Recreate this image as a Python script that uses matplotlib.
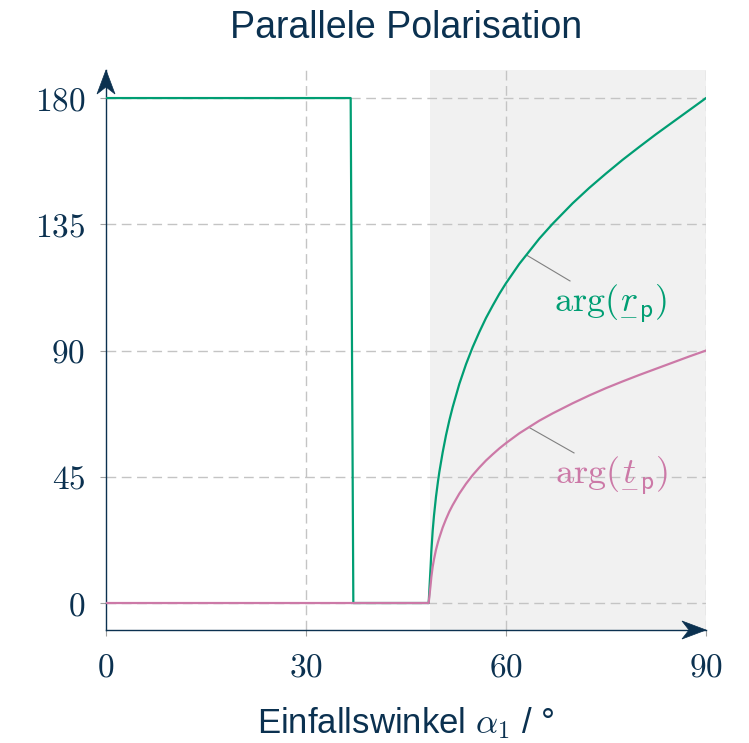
import numpy as np
import matplotlib
matplotlib.use("Agg")
import matplotlib.pyplot as plt
from matplotlib.patches import Polygon
from matplotlib.transforms import IdentityTransform

plt.rcParams['mathtext.fontset'] = 'cm'
plt.rcParams['font.family'] = ['Liberation Sans', 'DejaVu Sans']

# Phasen der Fresnel-Koeffizienten (parallel), in Grad
winkel = [0, 36.7, 37.1, 48.4, 48.7, 48.8, 49.0, 49.2, 49.5, 49.8, 50, 50.5,
          51, 51.5, 52, 53, 54, 55, 56, 57, 58, 59, 60, 62, 65, 67, 70, 72.5,
          75, 77.5, 80, 82.5, 85, 87.5, 90]
arg_rp = [180, 180, 0, 0, 13.4, 18.4, 25.7, 31.2, 37.9, 43.4, 46.7, 53.7,
          59.8, 65.1, 69.8, 78.1, 85.1, 91.2, 96.6, 101.6, 106.0, 110.2, 114.0,
          120.9, 129.9, 135.2, 142.5, 148.0, 153.1, 158.0, 162.6, 167.1, 171.4,
          175.7, 180]
arg_tp = [0, 0, 0, 0, 6.7, 9.2, 12.9, 15.6, 19.0, 21.7, 23.3, 26.9,
          29.9, 32.6, 34.9, 39.0, 42.5, 45.6, 48.3, 50.8, 53.0, 55.1, 57.0,
          60.5, 65.0, 67.6, 71.2, 74.0, 76.6, 79.0, 81.3, 83.5, 85.7,
          87.9, 90]

grenzwinkel = 48.6
x_ticks = [0, 30, 60, 90]
y_ticks = [0, 45, 90, 135, 180]

navy = '#0b3150'
gruen = '#009e73'
rosa = '#cc79a7'
grid_col = '#c4c4c4'

fig = plt.figure(figsize=(7.49, 7.43), dpi=100)
ax = fig.add_axes([106 / 749, 113 / 743, 600 / 749, 560 / 743])

ax.set_xlim(0, 90)
ax.set_ylim(-9.62, 190)

# Totalreflexionsbereich grau hinterlegt
ax.axvspan(grenzwinkel, 90, color='#f1f1f1', lw=0, zorder=0)

for xv in x_ticks[1:]:
    ax.axvline(xv, color=grid_col, lw=1.0, ls=(0, (7, 4)), zorder=1)
for yv in y_ticks:
    ax.axhline(yv, color=grid_col, lw=1.0, ls=(0, (7, 4)), zorder=1)

ax.plot(winkel, arg_rp, color=gruen, lw=1.6, zorder=3)
ax.plot(winkel, arg_tp, color=rosa, lw=1.6, zorder=3)

# Beschriftungen der Kurven mit Hinweislinien
ax.plot([63.1, 69.6], [124.0, 114.8], color='#808080', lw=0.8, zorder=2)
ax.plot([63.6, 70.2], [62.4, 53.5], color='#808080', lw=0.8, zorder=2)
ax.text(84.2, 106.9, r'$\arg(\underset{-}{r}_{\mathsf{p}})$', color=gruen,
        fontsize=26, ha='right', va='center', zorder=4)
ax.text(84.3, 45.6, r'$\arg(\underset{-}{t}_{\mathsf{p}})$', color=rosa,
        fontsize=26, ha='right', va='center', zorder=4)

for s in ['top', 'right']:
    ax.spines[s].set_visible(False)
for s in ['left', 'bottom']:
    ax.spines[s].set_color(navy)
    ax.spines[s].set_linewidth(1.0)

ax.set_xticks(x_ticks)
ax.set_xticklabels([f'${v}$' for v in x_ticks])
ax.set_yticks(y_ticks)
ax.set_yticklabels([f'${v}$' for v in y_ticks])
ax.tick_params(axis='both', colors='#a0a0a0', length=4, width=0.8,
               labelsize=24, labelcolor=navy)
ax.tick_params(axis='y', pad=11)
ax.tick_params(axis='x', pad=12)

ax.set_title('Parallele Polarisation', fontsize=27, color=navy, pad=23)
ax.set_xlabel(r'Einfallswinkel $\alpha_1$ / °', fontsize=25, color=navy,
              labelpad=16)

# Pfeilspitzen an den Achsenenden
def pfeil(spitze, richtung):
    d = np.array(richtung, dtype=float)
    n = np.array([-d[1], d[0]])
    p = np.array(spitze)
    verts = [p, p - 24 * d + 9 * n, p - 17 * d, p - 24 * d - 9 * n]
    ax.add_patch(Polygon(verts, closed=True, transform=IdentityTransform(),
                         facecolor=navy, edgecolor=navy, lw=0.5,
                         clip_on=False, zorder=6))

pfeil(ax.transAxes.transform((1, 0)), (1, 0))
pfeil(ax.transAxes.transform((0, 1)), (0, 1))

fig.savefig('out.png', dpi=100)
